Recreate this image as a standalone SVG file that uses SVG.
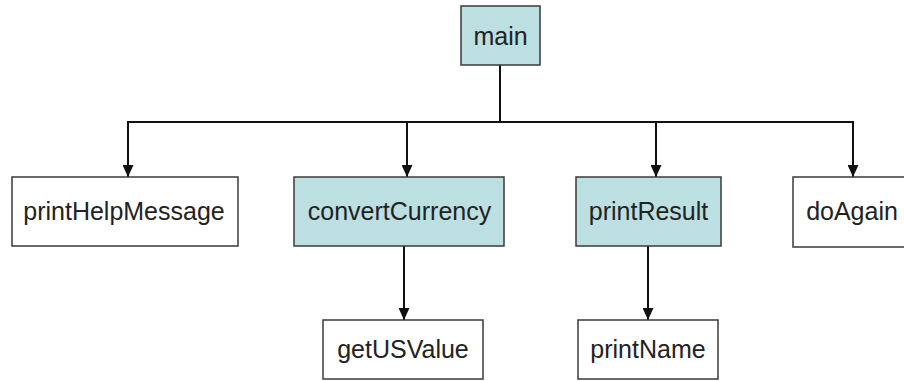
<svg xmlns="http://www.w3.org/2000/svg" width="904" height="381" viewBox="0 0 904 381">
<style>
.box{stroke:#3a3a3a;stroke-width:1.5}
.hl{fill:#bcdfe2}
.pl{fill:#ffffff}
text{font-family:"Liberation Sans",Arial,sans-serif;font-size:25px;fill:#222222;text-anchor:middle}
.ln{fill:none;stroke:#111;stroke-width:2}
.ar{marker-end:url(#ah)}
</style>
<defs>
<marker id="ah" viewBox="0 0 12 11" refX="12" refY="5.5" markerWidth="12" markerHeight="11" markerUnits="userSpaceOnUse" orient="auto">
<path d="M0,0 L12,5.5 L0,11 Z" fill="#111"/>
</marker>
</defs>
<rect width="904" height="381" fill="#ffffff"/>
<g id="connectors">
<path class="ln" d="M500,65 V122"/>
<path class="ln" d="M127,122 H854"/>
<path class="ln ar" d="M128,122 V177"/>
<path class="ln ar" d="M407,122 V177"/>
<path class="ln ar" d="M656,122 V177"/>
<path class="ln ar" d="M853,122 V177"/>
<path class="ln ar" d="M404,246 V320"/>
<path class="ln ar" d="M648,246 V320"/>
</g>
<g id="main"><rect class="box hl" x="461" y="6" width="79" height="59"/><text x="500.5" y="45">main</text></g>
<g id="printHelpMessage"><rect class="box pl" x="12" y="177" width="226" height="69"/><text x="124" y="220">printHelpMessage</text></g>
<g id="convertCurrency"><rect class="box hl" x="294" y="177" width="210" height="69"/><text x="399.5" y="220">convertCurrency</text></g>
<g id="printResult"><rect class="box hl" x="576" y="177" width="145" height="69"/><text x="648.5" y="220">printResult</text></g>
<g id="doAgain"><rect class="box pl" x="793" y="177" width="120" height="70"/><text x="852" y="220">doAgain</text></g>
<g id="getUSValue"><rect class="box pl" x="323" y="320" width="160" height="59"/><text x="403" y="358">getUSValue</text></g>
<g id="printName"><rect class="box pl" x="578" y="320" width="140" height="59"/><text x="648" y="358">printName</text></g>
</svg>
